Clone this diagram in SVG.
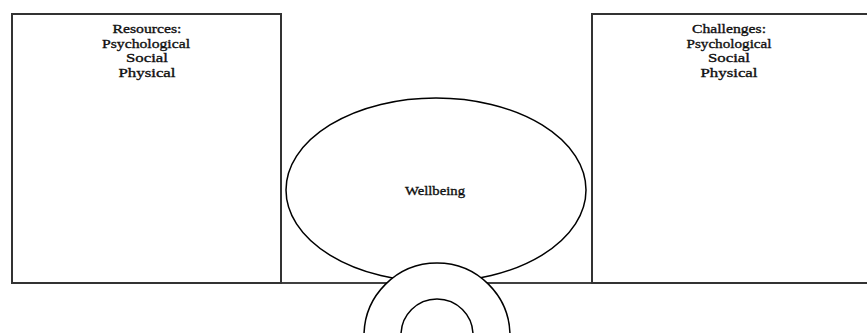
<svg xmlns="http://www.w3.org/2000/svg" width="867" height="333" viewBox="0 0 867 333">
<style>
.s{fill:none;stroke:#000;stroke-width:1.5}
.w{fill:#fff;stroke:#000;stroke-width:1.5}
.b{fill:#fff;stroke:#333;stroke-width:2}
text{font-family:"Liberation Serif","Times New Roman",serif;font-size:13px;fill:#111;stroke:#111;stroke-width:0.35;text-anchor:middle}
</style>
<rect width="867" height="333" fill="#fff"/>
<g id="connectors">
<line class="s" x1="281" y1="283" x2="388" y2="283"/>
<line class="s" x1="486" y1="283" x2="592" y2="283"/>
</g>
<g id="resources">
<rect class="b" x="12" y="14" width="269" height="269"/>
<text x="147" y="33" textLength="69" lengthAdjust="spacingAndGlyphs">Resources:</text>
<text x="146" y="48" textLength="88" lengthAdjust="spacingAndGlyphs">Psychological</text>
<text x="147" y="62" textLength="42" lengthAdjust="spacingAndGlyphs">Social</text>
<text x="147" y="77" textLength="57" lengthAdjust="spacingAndGlyphs">Physical</text>
</g>
<g id="challenges">
<rect class="b" x="592" y="14" width="290" height="269"/>
<text x="729" y="33" textLength="74" lengthAdjust="spacingAndGlyphs">Challenges:</text>
<text x="729" y="48" textLength="85" lengthAdjust="spacingAndGlyphs">Psychological</text>
<text x="729" y="62" textLength="42" lengthAdjust="spacingAndGlyphs">Social</text>
<text x="729" y="77" textLength="57" lengthAdjust="spacingAndGlyphs">Physical</text>
</g>
<g id="wellbeing">
<ellipse class="w" cx="436" cy="190" rx="150" ry="92"/>
<text x="435" y="195" textLength="60" lengthAdjust="spacingAndGlyphs">Wellbeing</text>
</g>
<g id="rings">
<circle class="w" cx="437" cy="336" r="73"/>
<circle class="w" cx="437" cy="335" r="36"/>
</g>
</svg>
